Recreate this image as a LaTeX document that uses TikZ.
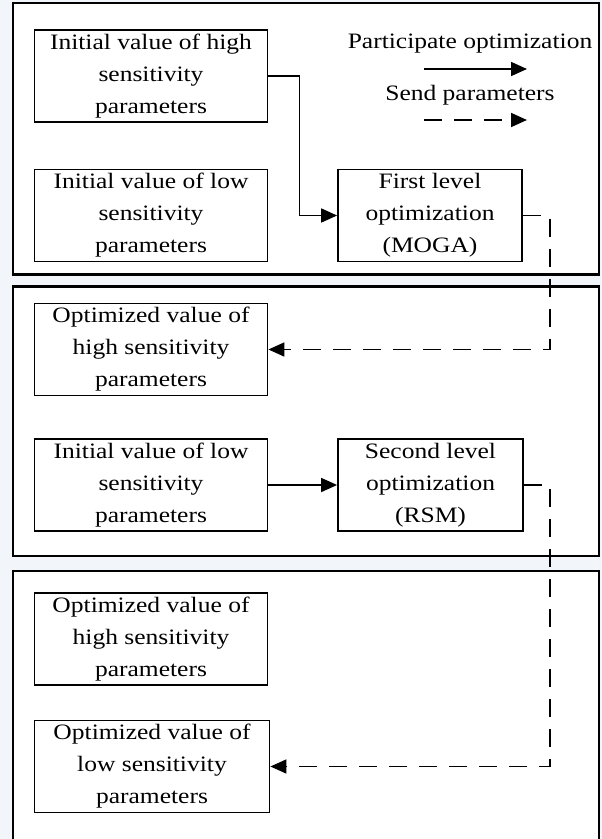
\documentclass[tikz,border=0pt]{standalone}
\usepackage{fontspec}
\setmainfont{Liberation Serif}[FakeStretch=1.16]
\usetikzlibrary{arrows.meta,positioning,calc}
\definecolor{BgBlue}{HTML}{F2F5F9}

\begin{document}
\begin{tikzpicture}[x=1pt,y=-1pt,
  box/.style={draw,line width=1.8pt,minimum width=233pt,minimum height=92pt,inner sep=0pt,align=center,font=\fontsize{22}{32}\selectfont},
  lab/.style={font=\fontsize{22}{32}\selectfont},
  panel/.style={draw,fill=white,line width=2.3pt},
  part/.style={line width=1.7pt,-{Triangle[length=16pt,width=14pt]}},
  send/.style={line width=1.7pt,dash pattern=on 18pt off 12pt,-{Triangle[length=16pt,width=14pt]}}]
\useasboundingbox (0,0) rectangle (602,839);
\clip (0,0) rectangle (602,839);
\fill[BgBlue] (0,0) rectangle (602,839);
\foreach \t/\b in {3.3/274.5,286.5/556,571/850}{\path[panel] (12.7,\t) rectangle (599,\b);}
% level 1
\node[box] (hi1) at (151,76) {Initial value of high\\sensitivity\\parameters};
\node[box] (lo1) at (151,215.5) {Initial value of low\\sensitivity\\parameters};
\node[box,minimum width=184pt] (moga) at (430,215.5) {First level\\optimization\\(MOGA)};
\node[lab] (leg1) at (470,44) {Participate optimization};
\node[lab] (leg2) at (470,95) {Send parameters};
\coordinate (p1) at (424,69); \coordinate (p2) at (527,69);
\coordinate (s1) at (424,120); \coordinate (s2) at (527,120);
\draw[part] (p1) -- (p2);
\draw[send] (s1) -- (s2);
% level 2
\node[box] (hi2) at (151,349.5) {Optimized value of\\high sensitivity\\parameters};
\node[box] (lo2) at (151,485) {Initial value of low\\sensitivity\\parameters};
\node[box,minimum width=185pt] (rsm) at (430.5,485) {Second level\\optimization\\(RSM)};
% level 3
\node[box] (hi3) at (151,639) {Optimized value of\\high sensitivity\\parameters};
\node[box,minimum width=235pt] (lo3) at (152,766.5) {Optimized value of\\low sensitivity\\parameters};
% connectors
\draw[part] (hi1.east) -- ++(31,0) |- (moga.west);
\draw[part] (lo2) -- (rsm);
\draw[send] (moga.east) -- ++(27,0) |- (hi2.east);
\draw[send] (rsm.east) -- ++(26,0) |- (lo3.east);
\end{tikzpicture}
\end{document}
